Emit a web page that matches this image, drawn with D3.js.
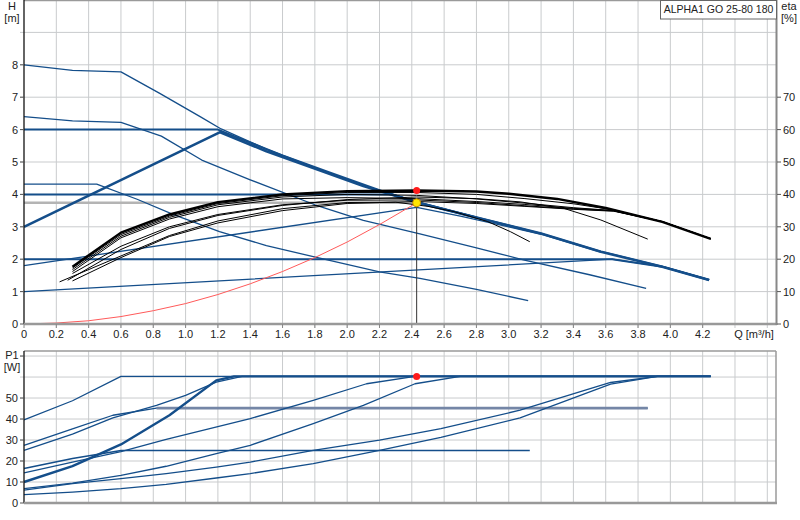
<!DOCTYPE html>
<html><head><meta charset="utf-8">
<script src="https://cdn.jsdelivr.net/npm/d3@7/dist/d3.min.js"></script>
<style>
html,body{margin:0;padding:0;background:#fff;}
svg{display:block;font-family:"Liberation Sans",Arial,sans-serif;}
</style></head>
<body>
<svg id="chart" width="800" height="520"></svg>
<script>
// ---------- DATA ----------
const title = "ALPHA1 GO 25-80 180";
const qTickLabels = [0,0.2,0.4,0.6,0.8,1.0,1.2,1.4,1.6,1.8,2.0,2.2,2.4,2.6,2.8,3.0,3.2,3.4,3.6,3.8,4.0,4.2];
const hTickLabels = [0,1,2,3,4,5,6,7,8];
const etaTickLabels = [0,10,20,30,40,50,60,70];
const pTickLabels = [0,10,20,30,40,50];

// H-Q curves [Q m3/h, H m]
const hSpeed3 = [[0,8.0],[0.3,7.83],[0.6,7.78],[0.84,7.12],[1.09,6.4],[1.22,6.02],[1.5,5.4],[1.82,4.79],[2.1,4.28],[2.45,3.75],[2.8,3.3],[3.2,2.8],[3.57,2.24],[3.95,1.78],[4.24,1.37]];
const hPP3 = [[0,3.0],[1.214,5.92],[1.5,5.33],[1.82,4.76],[2.1,4.26],[2.45,3.73],[2.8,3.29],[3.2,2.79],[3.57,2.23],[3.95,1.77],[4.24,1.36]];
const hCP3 = [[0,6.0],[1.2,6.0],[1.35,5.7],[1.6,5.2],[1.9,4.66],[2.2,4.13],[2.45,3.73],[2.8,3.29]];
const hCP2 = [[0,4.0],[2.27,4.0],[2.45,3.73],[2.8,3.28]];
const hPP2 = [[0,1.8],[2.43,3.6],[2.7,3.33],[3.0,3.0],[3.2,2.77],[3.57,2.22]];
const hCP1 = [[0,2.0],[3.64,2.0],[3.95,1.77],[4.24,1.36]];
const hPP1 = [[0,1.0],[3.64,2.0],[3.95,1.77],[4.24,1.36]];
const hSpeed2 = [[0,6.4],[0.3,6.27],[0.6,6.22],[0.85,5.8],[1.1,5.06],[1.4,4.45],[1.8,3.68],[2.1,3.2],[2.45,2.78],[2.8,2.35],[3.09,1.98],[3.5,1.52],[3.85,1.1]];
const hSpeed1 = [[0,4.32],[0.45,4.32],[0.7,3.85],[0.93,3.37],[1.21,2.85],[1.5,2.42],[1.79,2.08],[2.2,1.61],[2.45,1.41],[2.8,1.07],[3.12,0.72]];

// system curve [Q, H]
const systemCurve = [[0,0],[0.2,0.03],[0.4,0.1],[0.6,0.23],[0.8,0.41],[1.0,0.63],[1.2,0.91],[1.4,1.24],[1.6,1.62],[1.8,2.05],[2.0,2.53],[2.2,3.07],[2.43,3.74]];

// efficiency curves [Q, eta %]
const etaMax = [[0.3,17.7],[0.6,28.2],[0.9,33.8],[1.2,37.6],[1.6,40.0],[2.0,41.0],[2.43,41.2],[2.8,40.9],[3.0,40.2],[3.3,38.6],[3.6,35.8],[3.95,31.5],[4.25,26.3]];
const eta2 = [[0.3,17.3],[0.6,27.6],[0.9,33.3],[1.2,37.2],[1.6,39.6],[2.0,40.6],[2.43,40.6],[2.8,40.0],[3.1,38.7],[3.4,37.1],[3.65,35.2],[3.95,31.6],[4.25,26.3]];
const eta3 = [[0.3,16.8],[0.6,27.1],[0.9,32.9],[1.2,36.8],[1.6,39.2],[2.0,40.0],[2.43,39.7],[2.8,38.6],[3.1,37.3],[3.4,35.9],[3.65,35.0],[3.95,31.6],[4.25,26.3]];
const eta4 = [[0.3,16.2],[0.6,26.6],[0.9,32.4],[1.2,36.2],[1.6,38.6],[2.0,39.0],[2.43,38.7],[2.8,37.8],[3.1,36.9],[3.4,35.7],[3.65,35.0],[3.95,31.6],[4.25,26.3]];
const eta5 = [[0.3,15.6],[0.6,24.0],[0.9,30.0],[1.2,33.8],[1.6,36.8],[2.0,38.2],[2.43,38.3],[2.8,37.5],[3.1,36.5],[3.4,35.5],[3.65,34.9],[3.95,31.6],[4.25,26.3]];
const etaSpeed2 = [[0.27,13.5],[0.6,23.0],[0.9,29.5],[1.2,33.5],[1.6,36.6],[2.0,38.4],[2.43,39.2],[2.8,38.7],[3.07,37.7],[3.34,35.7],[3.57,32.1],[3.86,26.2]];
const etaSpeed1 = [[0.22,13.0],[0.6,21.0],[0.9,27.3],[1.2,31.8],[1.6,35.6],[2.0,37.5],[2.3,37.6],[2.5,36.3],[2.66,34.7],[2.87,31.6],[3.01,28.5],[3.13,25.4]];
const eta8 = [[0.3,13.3],[0.6,20.5],[0.9,27.0],[1.2,31.2],[1.6,35.0],[2.0,37.2],[2.43,37.8],[2.8,37.2],[3.1,36.3],[3.4,35.4],[3.65,34.8],[3.95,31.6],[4.25,26.3]];

// P1 curves [Q, W]
const p1Speed3 = [[0,39.6],[0.3,48.7],[0.6,60.3],[4.25,60.3]];
const p1Speed2 = [[0,27.5],[0.3,35.3],[0.55,41.8],[0.82,45.2],[3.86,45.2]];
const p1Speed1 = [[0,16.4],[0.3,21.2],[0.6,25.0],[3.13,25.0]];
const p1CP3 = [[0,10],[0.3,17.6],[0.6,27.9],[0.9,41.8],[1.19,58.4],[1.3,60.3],[4.25,60.3]];
const p1PP3 = [[0,25.1],[0.3,32.8],[0.55,40.5],[0.82,46.5],[1.0,51.3],[1.19,57.6],[1.35,60.3],[4.25,60.3]];
const p1CP2 = [[0,14.3],[0.3,19.5],[0.6,24.5],[0.88,30.3],[1.4,40.2],[1.79,48.9],[2.12,56.8],[2.42,60.3],[4.25,60.3]];
const p1PP2 = [[0,6.8],[0.3,9.5],[0.6,13.2],[0.88,17.5],[1.19,23.5],[1.4,27.5],[1.79,37.8],[2.1,46.5],[2.42,56.8],[2.7,60.3],[4.25,60.3]];
const p1CP1 = [[0,6.1],[0.3,9.2],[0.6,11.6],[0.88,14.0],[1.19,17.1],[1.4,19.5],[1.79,25.1],[2.2,29.9],[2.58,35.4],[3.07,44.2],[3.63,57.4],[3.92,60.3],[4.25,60.3]];
const p1PP1 = [[0,4.0],[0.3,5.2],[0.6,6.8],[0.88,8.9],[1.19,11.9],[1.4,14.0],[1.79,18.8],[2.2,25.1],[2.58,31.3],[3.07,40.5],[3.63,56.6],[3.92,60.3],[4.25,60.3]];

// duty point
const dutyQ = [2.43];
const dutyH = [3.74];
const dutyEta = [41.2];
const dutyP1 = [60.3];

// ---------- DRAW ----------
const svg = d3.select("#chart");
const BLUE = "#144e8a";
const x = d3.scaleLinear().domain([0, 4.66]).range([24, 777]);
const yH = d3.scaleLinear().domain([0, 10]).range([324, 0]);
const yEta = d3.scaleLinear().domain([0, 100]).range([324, 0]);
const yP = d3.scaleLinear().domain([0, 72.4]).range([503, 351]);

const gridQ = d3.range(1, 24).map(i => i * 0.2);

// top grid
const gTop = svg.append("g");
gTop.selectAll("line.v").data(gridQ).join("line")
  .attr("x1", d => x(d)).attr("x2", d => x(d)).attr("y1", 0).attr("y2", 328)
  .attr("stroke", "#c9cbcd").attr("stroke-width", 1);
gTop.selectAll("line.h").data(d3.range(1, 10)).join("line")
  .attr("x1", 20).attr("x2", 777).attr("y1", d => yH(d)).attr("y2", d => yH(d))
  .attr("stroke", "#c9cbcd").attr("stroke-width", 1);
// bottom grid
const gBot = svg.append("g");
gBot.selectAll("line.v").data(gridQ).join("line")
  .attr("x1", d => x(d)).attr("x2", d => x(d)).attr("y1", 351).attr("y2", 503)
  .attr("stroke", "#c9cbcd").attr("stroke-width", 1);
gBot.selectAll("line.h").data(d3.range(10, 71, 10)).join("line")
  .attr("x1", 20).attr("x2", 776).attr("y1", d => yP(d)).attr("y2", d => yP(d))
  .attr("stroke", "#c9cbcd").attr("stroke-width", 1);

// borders
svg.append("line").attr("x1", 24).attr("x2", 777).attr("y1", 0.5).attr("y2", 0.5).attr("stroke", "#9a9a9a").attr("stroke-width", 1.5);
svg.append("line").attr("x1", 24).attr("x2", 776).attr("y1", 351).attr("y2", 351).attr("stroke", "#9a9a9a").attr("stroke-width", 1.5);
svg.append("line").attr("x1", 776).attr("x2", 776).attr("y1", 351).attr("y2", 503).attr("stroke", "#9a9a9a").attr("stroke-width", 1.5);

// duty horizontal gray
svg.append("line").attr("x1", x(0)).attr("x2", x(dutyQ[0])).attr("y1", yH(dutyH[0])).attr("y2", yH(dutyH[0]))
  .attr("stroke", "#b4b4b4").attr("stroke-width", 2.5);

const lineH = d3.line().x(d => x(d[0])).y(d => yH(d[1]));
const lineE = d3.line().x(d => x(d[0])).y(d => yEta(d[1]));
const lineP = d3.line().x(d => x(d[0])).y(d => yP(d[1]));

function path(g, data, gen, color, w) {
  g.append("path").datum(data).attr("d", gen).attr("fill", "none")
    .attr("stroke", color).attr("stroke-width", w).attr("stroke-linejoin", "round");
}

// H curves
path(svg, hSpeed1, lineH, BLUE, 1.3);
path(svg, hSpeed2, lineH, BLUE, 1.3);
path(svg, hCP1, lineH, BLUE, 2);
path(svg, hPP1, lineH, BLUE, 1.3);
path(svg, hPP2, lineH, BLUE, 1.3);
path(svg, hCP2, lineH, BLUE, 2);
path(svg, hCP3, lineH, BLUE, 2);
path(svg, hSpeed3, lineH, BLUE, 1.3);
path(svg, hPP3, lineH, BLUE, 2.6);

// eta curves
[eta2, eta3, eta4, eta5, etaSpeed2, etaSpeed1, eta8].forEach(d => path(svg, d, lineE, "#000", 1));
path(svg, etaMax, lineE, "#000", 2.4);

// system curve
path(svg, systemCurve, lineH, "#ff5a5a", 1);

// vertical duty line
svg.append("line").attr("x1", x(dutyQ[0])).attr("x2", x(dutyQ[0])).attr("y1", yH(dutyH[0])).attr("y2", yH(0))
  .attr("stroke", "#333").attr("stroke-width", 1);

// P1 curves
path(svg, p1Speed1, lineP, BLUE, 1.6);
path(svg, p1Speed2, lineP, BLUE, 1.3);
path(svg, p1Speed2.filter(d => d[0] >= 0.82), lineP, "#7486a6", 2.6);
path(svg, p1PP1, lineP, BLUE, 1.3);
path(svg, p1CP1, lineP, BLUE, 1.3);
path(svg, p1PP2, lineP, BLUE, 1.3);
path(svg, p1CP2, lineP, BLUE, 1.3);
path(svg, p1PP3, lineP, BLUE, 1.3);
path(svg, p1Speed3, lineP, BLUE, 1.3);
path(svg, p1CP3, lineP, BLUE, 2.4);

// axes top
svg.append("line").attr("x1", 24).attr("x2", 24).attr("y1", 0).attr("y2", 324).attr("stroke", "#111").attr("stroke-width", 1.3);
svg.append("line").attr("x1", 24).attr("x2", 777).attr("y1", 324).attr("y2", 324).attr("stroke", "#999").attr("stroke-width", 2.5);
svg.append("line").attr("x1", 776.5).attr("x2", 776.5).attr("y1", 0).attr("y2", 325).attr("stroke", "#888").attr("stroke-width", 2);
// axes bottom
svg.append("line").attr("x1", 24).attr("x2", 24).attr("y1", 351).attr("y2", 503).attr("stroke", "#111").attr("stroke-width", 1.3);
svg.append("line").attr("x1", 24).attr("x2", 777).attr("y1", 503).attr("y2", 503).attr("stroke", "#999").attr("stroke-width", 2.5);

const txt = (xx, yy, s, anchor, fs) => svg.append("text").attr("x", xx).attr("y", yy).attr("text-anchor", anchor || "start")
  .attr("font-size", fs || 11).attr("fill", "#222").text(s);

// H ticks
hTickLabels.forEach(v => {
  svg.append("line").attr("x1", 20).attr("x2", 24).attr("y1", yH(v)).attr("y2", yH(v)).attr("stroke", "#555");
  txt(18, yH(v) + 4, v, "end");
});
// eta ticks
etaTickLabels.forEach(v => {
  svg.append("line").attr("x1", 777).attr("x2", 781).attr("y1", yEta(v)).attr("y2", yEta(v)).attr("stroke", "#555");
  txt(783, yEta(v) + 4, v, "start");
});
// Q ticks
qTickLabels.forEach(v => {
  svg.append("line").attr("x1", x(v)).attr("x2", x(v)).attr("y1", 324).attr("y2", 328).attr("stroke", "#888");
  txt(x(v), 338, v === 0 ? "0" : d3.format(".1f")(v), "middle");
});
// P ticks
pTickLabels.forEach(v => {
  svg.append("line").attr("x1", 20).attr("x2", 24).attr("y1", yP(v)).attr("y2", yP(v)).attr("stroke", "#555");
  txt(18, yP(v) + 4, v, "end");
});
svg.append("line").attr("x1", 20).attr("x2", 24).attr("y1", yP(70)).attr("y2", yP(70)).attr("stroke", "#555");

// axis titles
txt(12, 10, "H", "middle");
txt(12, 22, "[m]", "middle");
txt(789, 10, "eta", "middle");
txt(789, 22, "[%]", "middle");
txt(754, 338, "Q [m³/h]", "middle");
txt(12, 359, "P1", "middle");
txt(12, 371, "[W]", "middle");

// legend box
svg.append("rect").attr("x", 660.5).attr("y", 0.5).attr("width", 116).attr("height", 18.5)
  .attr("fill", "#fff").attr("stroke", "#666").attr("stroke-width", 1);
txt(718.5, 13, title, "middle", 10.5);

// points
svg.append("circle").attr("cx", x(dutyQ[0])).attr("cy", yEta(dutyEta[0])).attr("r", 3.5).attr("fill", "#ff1a1a");
svg.append("circle").attr("cx", x(dutyQ[0])).attr("cy", yH(dutyH[0])).attr("r", 4).attr("fill", "#ffe600").attr("stroke", "#c08a00").attr("stroke-width", 1);
svg.append("circle").attr("cx", x(dutyQ[0])).attr("cy", yP(dutyP1[0])).attr("r", 3.5).attr("fill", "#ff1a1a");
</script>
</body></html>
